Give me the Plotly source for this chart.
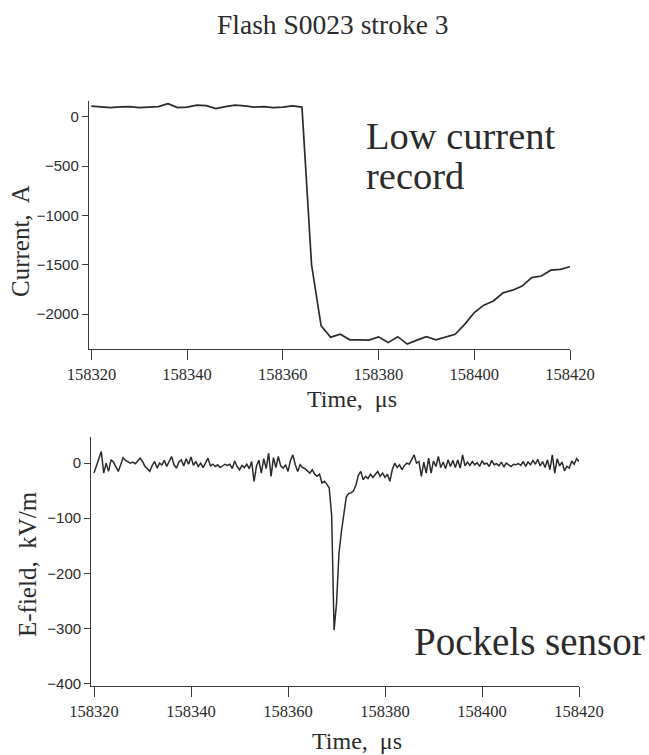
import plotly.graph_objects as go

# ---------------- data ----------------
current_time = [158320 + 2 * i for i in range(51)]
current_A = [110, 100, 95, 102, 105, 95, 100, 105, 135, 95,
             100, 120, 115, 85, 105, 120, 112, 100, 105, 95,
             100, 112, 100, -1500, -2120, -2235, -2205, -2262, -2262, -2265,
             -2232, -2290, -2230, -2305, -2265, -2230, -2262, -2232, -2205, -2105,
             -1985, -1910, -1868, -1785, -1758, -1716, -1630, -1614, -1555, -1546,
             -1520]

efield_kVm = [
    -18, -5, 10, 21, -18, 0, -15, 6, 2, -8,
    -15, -3, 10, 5, 3, 0, 2, -1, 4, 9,
    3, -6, -10, -15, -4, 3, -9, 0, -3, 5,
    -6, 2, 12, -3, -9, 2, 6, -5, 8, -2,
    11, -4, 3, -6, 0, -8, 1, 9, -5, -2,
    -6, -3, -8, -5, -2, -4, -2, -10, 4, -6,
    -12, -4, -8, -2, -10, 3, -33, -5, 5, -18,
    8, -10, 18, -24, 10, -8, 12, -5, -9, -3,
    -15, 5, 15, -3, -15, -3, -8, -10, -14, -18,
    -12, -20, -24, -20, -36, -33, -38, -45, -95, -303,
    -255, -165, -125, -88, -62, -55, -54, -50, -40, -22,
    -15, -30, -24, -28, -20, -26, -21, -15, -24, -18,
    -26, -20, -33, -12, 0, -8, -3, -12, -4, 0,
    -2, 8, 15, 0, 3, -24, 2, -18, 9, -18,
    4, -6, 12, -8, 2, -10, 6, -6, 5, -8,
    6, -9, 15, -5, 2, -4, 3, -3, 1, -6,
    4, -2, 0, -6, 5, -3, -1, -5, 2, -7,
    0, -3, -6, -2, -3, -1, -4, 3, -6, 2,
    -3, 5, -2, 7, -5, 3, -8, 6, -12, 15,
    -18, 8, -5, 2, -14, -6, -9, 4, -2, 8,
    3]
efield_time = [158320 + 0.5 * i for i in range(len(efield_kVm))]

x_ticks = [158320, 158340, 158360, 158380, 158400, 158420]
cur_ticks = [0, -500, -1000, -1500, -2000]
ef_ticks = [0, -100, -200, -300, -400]

title_text = "Flash S0023 stroke 3"
label_top = ["Low current", "record"]
label_bottom = "Pockels sensor"

# ---------------- figure ----------------
W, H = 649, 755
SERIF = "Liberation Serif, Times New Roman, serif"
SANS = "Liberation Sans, Arial, sans-serif"
INK = "#2b2b2b"


def px(x):
    return x / W


def py(y):
    return 1 - y / H


fig = go.Figure()
fig.add_trace(go.Scatter(x=current_time, y=current_A, mode="lines",
                         line=dict(color=INK, width=1.7), xaxis="x", yaxis="y",
                         showlegend=False))
fig.add_trace(go.Scatter(x=efield_time, y=efield_kVm, mode="lines",
                         line=dict(color=INK, width=1.5), xaxis="x2", yaxis="y2",
                         showlegend=False))

common_x = dict(showgrid=False, zeroline=False, showline=True, linecolor="#3a3a3a",
                linewidth=1.4, ticks="outside", ticklen=10, tickwidth=1.3,
                tickcolor="#3a3a3a", tickvals=x_ticks, automargin=False,
                ticktext=[str(v) for v in x_ticks],
                tickfont=dict(family=SERIF, size=16.5, color=INK))
common_y = dict(showgrid=False, zeroline=False, showline=True, linecolor="#3a3a3a",
                linewidth=1.4, ticks="outside", ticklen=6, tickwidth=1.3,
                tickcolor="#3a3a3a", automargin=False,
                tickfont=dict(family=SANS, size=15, color=INK))

fig.update_layout(
    template="none",
    width=W, height=H,
    margin=dict(l=0, r=0, t=0, b=0, autoexpand=False),
    paper_bgcolor="white", plot_bgcolor="white",
    xaxis=dict(common_x, domain=[px(89), px(570)], range=[158319.5, 158420],
               anchor="y"),
    yaxis=dict(common_y, domain=[py(349), py(100.7)], range=[-2355, 165],
               tickvals=cur_ticks, anchor="x"),
    xaxis2=dict(common_x, domain=[px(91.3), px(579)], range=[158319.44, 158420],
                anchor="y2"),
    yaxis2=dict(common_y, domain=[py(685.7), py(436.7)], range=[-404, 48],
                tickvals=ef_ticks, anchor="x2"),
)

ann = []


def add(text, x, y, size, xanchor="center", angle=0):
    ann.append(dict(text=text, x=px(x), y=py(y), xref="paper", yref="paper",
                    xanchor=xanchor, yanchor="middle", showarrow=False,
                    textangle=angle,
                    font=dict(family=SERIF, size=size, color=INK)))


add(title_text, 332, 25, 27.5)
add(label_top[0], 364, 136, 38.5, xanchor="left")
add(label_top[1], 364, 176, 38.5, xanchor="left")
add(label_bottom, 412, 641, 39, xanchor="left")
add("Current,\u00a0 A", 20, 241, 25, angle=-90)
add("E-field,\u00a0 kV/m", 27, 564, 25, angle=-90)
add("Time,\u00a0 \u03bcs", 352, 399, 24)
add("Time,\u00a0 \u03bcs", 357, 741, 24)
fig.update_layout(annotations=ann)

fig.write_html("out.html")
